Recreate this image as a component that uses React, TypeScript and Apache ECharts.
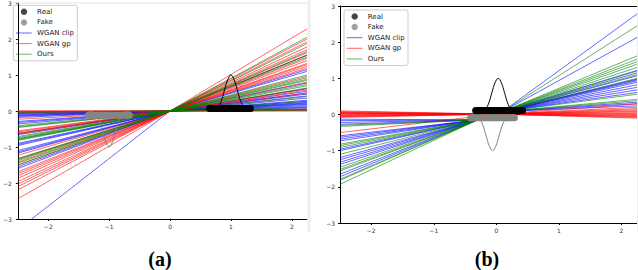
import React, { useEffect, useRef } from "react";
import * as echarts from "echarts";

// Axis ranges / ticks
const X_RANGE = [-2.5, 2.25];
const Y_RANGE = [-3, 3];
const X_TICKS = [-2, -1, 0, 1, 2];

// ---------- Panel (a) ----------
// critic lines: value at left edge (x=-2.5) and right edge (x=2.25), meeting at the pivot
const aPivot = [[0, 0]];
const aClipLeft = [-0.05, -0.07, -0.09, -0.11, -0.13, -0.15, -0.18, -0.29, -0.32, -0.36, -0.62, -0.66, -0.9, -0.93, -0.96, -1.1, -1.14, -1.17, -1.55, -1.6, -3.3];
const aClipRight = [0.04, 0.06, 0.09, 0.12, 0.15, 0.18, 0.2, 0.22, 0.24, 0.27, 0.3, 0.36, 0.42, 0.47, 0.5, 0.55, 0.62, 0.78, 1.1, 1.15, 1.55];
const aGpLeft = [0, 0, -0.02, -0.04, -0.23, -0.55, -0.58, -0.62, -0.64, -1.23, -1.33, -1.42, -1.5, -1.69, -1.74, -1.8, -1.87, -1.96, -2.03, -2.1, -2.19, -2.44];
const aGpRight = [0, 0.01, 0.03, 0.05, 0.5, 0.58, 0.62, 0.8, 0.96, 1.19, 1.24, 1.29, 1.32, 1.4, 1.46, 1.55, 1.62, 1.7, 1.78, 1.92, 2.0, 2.28];
const aOursLeft = [-0.02, -0.04, -0.41, -0.44, -0.46, -0.71, -0.74, -0.77, -0.78, -0.8, -0.82, -1.32, -1.35, -1.38, -1.45, -1.5];
const aOursRight = [0.02, 0.1, 0.27, 0.4, 0.64, 0.7, 0.74, 0.85, 0.88, 0.92, 1.0, 1.5, 1.55, 1.65, 1.87, 2.05];
// samples (span of x, y level) and density centers
const aRealSpan = [0.65, 1.32];
const aRealLevel = 0.07;
const aFakeSpan = [-1.34, -0.67];
const aFakeLevel = -0.12;
const aRealMu = 1.0;
const aFakeMu = -1.0;

// ---------- Panel (b) ----------
const bPivotFan = [[-0.3, -0.15], [0.1, 0.08]];
const bPivotGp = [[0, 0.01]];
const bClipLeft = [-0.13, -0.17, -0.22, -0.27, -0.59, -0.63, -0.68, -0.73, -0.96, -1.0, -1.19, -1.25, -1.32, -1.38, -1.65, -1.72];
const bClipRight = [0.24, 0.3, 0.34, 0.61, 0.68, 0.75, 0.82, 0.89, 0.93, 0.96, 0.98, 1.07, 1.15, 1.22, 2.13, 2.78];
const bGpLeft = [0.1, 0.08, 0.06, 0.05, 0.04, 0.03, 0.02, 0.0, -0.02, -0.03, -0.05, -0.06, -0.08, -0.5];
const bGpRight = [0.29, 0.2, 0.16, 0.13, 0.1, 0.08, 0.05, 0.03, 0.0, -0.02, -0.04, -0.06, -0.08, -0.1];
const bOursLeft = [-0.3, -0.33, -0.82, -0.86, -0.91, -1.1, -1.46, -1.52, -1.56, -1.79, -1.82, -1.93];
const bOursRight = [0.38, 0.42, 0.56, 1.0, 1.1, 1.2, 1.3, 1.39, 1.46, 1.53, 1.62, 2.45];
const bRealSpan = [-0.33, 0.42];
const bRealLevel = 0.11;
const bFakeSpan = [-0.41, 0.29];
const bFakeLevel = -0.09;
const bRealMu = 0.03;
const bFakeMu = -0.06;

// density curve shape (offset from center, height)
const curveDx = [-0.35, -0.25, -0.2, -0.15, -0.1, -0.05, 0, 0.05, 0.1, 0.15, 0.2, 0.25, 0.35];
const curveH = [0.0, 0.04, 0.14, 0.32, 0.61, 0.88, 1.0, 0.88, 0.61, 0.32, 0.14, 0.04, 0.0];

const legendNames = ["Real", "Fake", "WGAN clip", "WGAN gp", "Ours"];
const COLORS: Record<string, string> = {
  "WGAN clip": "#0000ff",
  "WGAN gp": "#ff0000",
  Ours: "#008000",
};

const minus = (v: number) => String(v).replace("-", "\u2212");

function fan(name: string, lefts: number[], rights: number[], pivots: number[][], idx: number, z: number) {
  return lefts.map((l, i) => ({
    type: "line",
    name,
    xAxisIndex: idx,
    yAxisIndex: idx,
    data: [[X_RANGE[0], l], ...pivots, [X_RANGE[1], rights[i]]],
    symbol: "none",
    showSymbol: false,
    silent: true,
    clip: true,
    z,
    lineStyle: { color: COLORS[name], width: 1, opacity: 0.6 },
  }));
}

function curve(name: string, mu: number, sign: number, color: string, idx: number) {
  return {
    type: "line",
    name,
    xAxisIndex: idx,
    yAxisIndex: idx,
    data: curveDx.map((d, i) => [mu + d, sign * curveH[i]]),
    smooth: 0.4,
    symbol: "none",
    silent: true,
    z: 5,
    lineStyle: { color, width: 1 },
  };
}

function bar(name: string, span: number[], level: number, color: string, idx: number) {
  return {
    type: "line",
    name,
    xAxisIndex: idx,
    yAxisIndex: idx,
    data: [[span[0], level], [span[1], level]],
    symbol: "none",
    silent: true,
    z: 6,
    lineStyle: { color, width: 7, cap: "round" },
  };
}

function xAxis(idx: number) {
  return {
    gridIndex: idx,
    type: "value",
    min: X_RANGE[0],
    max: X_RANGE[1],
    axisLine: { show: true, onZero: false, lineStyle: { color: "#000", width: 1 } },
    axisTick: { show: true, length: 2, customValues: X_TICKS, lineStyle: { color: "#000" } },
    axisLabel: { customValues: X_TICKS, fontSize: 6, color: "#333", margin: 4, fontFamily: "DejaVu Sans", formatter: minus },
    splitLine: { show: false },
  };
}

function yAxis(idx: number, margin: number) {
  return {
    gridIndex: idx,
    type: "value",
    min: Y_RANGE[0],
    max: Y_RANGE[1],
    interval: 1,
    axisLine: { show: true, onZero: false, lineStyle: { color: "#000", width: 1 } },
    axisTick: { show: true, length: 2, lineStyle: { color: "#000" } },
    axisLabel: { fontSize: 6, color: "#333", margin, fontFamily: "DejaVu Sans", formatter: minus },
    splitLine: { show: false },
  };
}

function legend(left: number, top: number) {
  const children: any[] = [
    {
      type: "rect",
      shape: { x: left, y: top, width: 64, height: 55.5, r: 2 },
      style: { fill: "rgba(255,255,255,0.85)", stroke: "#cccccc", lineWidth: 1 },
    },
  ];
  legendNames.forEach((n, i) => {
    const cy = top + 6.5 + i * 10.6;
    if (n === "Real" || n === "Fake") {
      children.push({
        type: "circle",
        shape: { cx: left + 10.7, cy, r: 3.2 },
        style: { fill: n === "Real" ? "#444444" : "#a0a0a0" },
      });
    } else {
      children.push({
        type: "line",
        shape: { x1: left + 2.7, y1: cy, x2: left + 18.4, y2: cy },
        style: { stroke: COLORS[n], opacity: 0.6, lineWidth: 1 },
      });
    }
    children.push({
      type: "text",
      x: left + 23.8,
      y: cy,
      style: { text: n, font: '7px "DejaVu Sans"', fill: "#222", textVerticalAlign: "middle", verticalAlign: "middle" },
    });
  });
  return { type: "group", z: 100, children };
}

export default function App() {
  const ref = useRef<HTMLDivElement>(null);
  useEffect(() => {
    if (!ref.current) return;
    const chart = echarts.init(ref.current, undefined, { renderer: "svg" });
    const series: any[] = [
      ...fan("WGAN clip", aClipLeft, aClipRight, aPivot, 0, 2),
      ...fan("WGAN gp", aGpLeft, aGpRight, aPivot, 0, 3),
      ...fan("Ours", aOursLeft, aOursRight, aPivot, 0, 4),
      curve("Real", aRealMu, 1, "#000000", 0),
      curve("Fake", aFakeMu, -1, "#808080", 0),
      bar("Real", aRealSpan, aRealLevel, "#000000", 0),
      bar("Fake", aFakeSpan, aFakeLevel, "#858585", 0),
      ...fan("WGAN clip", bClipLeft, bClipRight, bPivotFan, 1, 2),
      ...fan("WGAN gp", bGpLeft, bGpRight, bPivotGp, 1, 3),
      ...fan("Ours", bOursLeft, bOursRight, bPivotFan, 1, 4),
      curve("Real", bRealMu, 1, "#000000", 1),
      curve("Fake", bFakeMu, -1, "#808080", 1),
      bar("Real", bRealSpan, bRealLevel, "#000000", 1),
      bar("Fake", bFakeSpan, bFakeLevel, "#858585", 1),
    ];
    chart.setOption({
      animation: false,
      backgroundColor: "#ffffff",
      grid: [
        { left: 11, top: 1, width: 296, height: 218 },
        { left: 340, top: 6, width: 297, height: 217 },
      ],
      xAxis: [
        xAxis(0),
        xAxis(1),
        {
          gridIndex: 1,
          type: "value",
          position: "top",
          min: X_RANGE[0],
          max: X_RANGE[1],
          axisLine: { show: true, onZero: false, lineStyle: { color: "#000", width: 1 } },
          axisTick: { show: false },
          axisLabel: { show: false },
          splitLine: { show: false },
        },
      ],
      yAxis: [yAxis(0, 6), yAxis(1, 5)],
      series,
      graphic: [
        { type: "rect", z: 90, shape: { x: 307.5, y: 0, width: 3, height: 232 }, style: { fill: "#eeeeee" } },
        { type: "rect", z: 90, shape: { x: 637, y: 0, width: 2, height: 232 }, style: { fill: "#eeeeee" } },
        { type: "rect", z: 1, shape: { x: 12, y: 2.5, width: 295, height: 1 }, style: { fill: "#e6e6e6" } },
        legend(13.3, 5.3),
        legend(344, 10),
        {
          type: "text",
          z: 100,
          x: 160,
          y: 259,
          style: { text: "(a)", font: 'bold 20px "Liberation Serif"', fill: "#000", textAlign: "center", textVerticalAlign: "middle", verticalAlign: "middle" },
        },
        {
          type: "text",
          z: 100,
          x: 487,
          y: 259,
          style: { text: "(b)", font: 'bold 20px "Liberation Serif"', fill: "#000", textAlign: "center", textVerticalAlign: "middle", verticalAlign: "middle" },
        },
      ],
    });
    return () => chart.dispose();
  }, []);
  return <div ref={ref} style={{ position: "fixed", left: 0, top: 0, width: 638, height: 270 }} />;
}
